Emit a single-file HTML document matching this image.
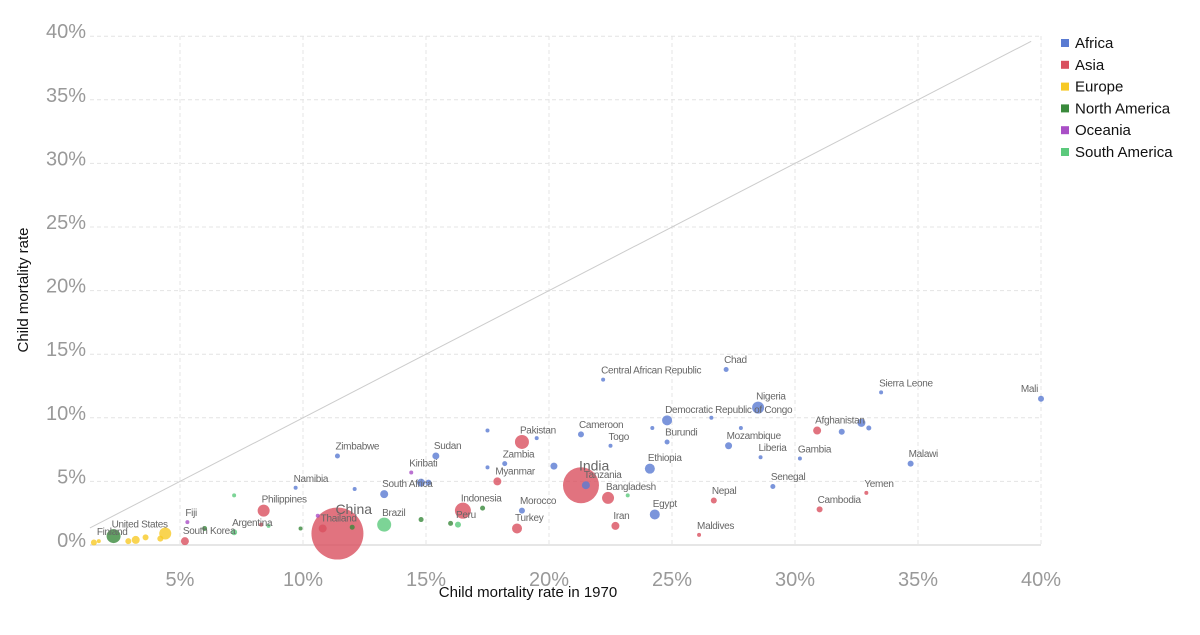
<!DOCTYPE html>
<html><head><meta charset="utf-8"><style>
body{margin:0;background:#fff;width:1200px;height:630px;overflow:hidden;font-family:"Liberation Sans",sans-serif}
</style></head><body>
<svg id="chart" width="1200" height="630" xmlns="http://www.w3.org/2000/svg">
<g id="grid"></g>
<g id="axes"></g>
<g id="marks"></g>
<g id="labels"></g>
<g id="legend"></g>
<text x="528" y="597" text-anchor="middle" font-size="15" fill="#111">Child mortality rate in 1970</text>
<text transform="translate(28,290) rotate(-90)" text-anchor="middle" font-size="15" fill="#111">Child mortality rate</text>
</svg>
<script>
const xTicks=[5,10,15,20,25,30,35,40];
const yTicks=[0,5,10,15,20,25,30,35,40];
const regions=["Africa","Asia","Europe","North America","Oceania","South America"];
const regionColors=["#5a7bd2","#d9505f","#f7c925","#3a8a3c","#a94fc6","#5bc97c"];
const names=["Mali","Sierra Leone","Chad","Central African Republic","Nigeria","Democratic Republic of Congo","Afghanistan","Gambia","Malawi","Liberia","Mozambique","Burundi","Togo","Cameroon","Ethiopia","Senegal","Yemen","Cambodia","Nepal","Maldives","Egypt","Iran","Bangladesh","Tanzania","India","Pakistan","Zambia","Myanmar","Morocco","Turkey","Indonesia","Peru","Sudan","South Africa","Kiribati","Brazil","China","Thailand","Zimbabwe","Namibia","Philippines","Argentina","South Korea","Fiji","United States","Finland",
"","","","","","","","","","","","","","","","","","","","","","","","","","","","","",""];
const x1970=[40,33.5,27.2,22.2,28.5,24.8,30.9,30.2,34.7,28.6,27.3,24.8,22.5,21.3,24.1,29.1,32.9,31.0,26.7,26.1,24.3,22.7,22.4,21.5,21.3,18.9,18.2,17.9,18.9,18.7,16.5,16.3,15.4,13.3,14.4,13.3,11.4,10.8,11.4,9.7,8.4,7.2,5.2,5.3,2.3,1.7,
32.7,31.9,33.0,27.8,26.6,24.2,20.2,19.5,17.5,17.5,14.8,15.1,12.1,23.2,17.3,12.0,9.9,8.6,4.4,3.2,2.9,3.6,1.5,6.0,7.2,16.0,14.8,10.6,8.3,4.2];
const yNow=[11.5,12.0,13.8,13.0,10.8,9.8,9.0,6.8,6.4,6.9,7.8,8.1,7.8,8.7,6.0,4.6,4.1,2.8,3.5,0.8,2.4,1.5,3.7,4.7,4.7,8.1,6.4,5.0,2.7,1.3,2.7,1.6,7.0,4.0,5.7,1.6,0.9,1.3,7.0,4.5,2.7,1.0,0.3,1.8,0.7,0.3,
9.6,8.9,9.2,9.2,10.0,9.2,6.2,8.4,9.0,6.1,4.9,4.9,4.4,3.9,2.9,1.4,1.3,1.5,0.9,0.4,0.3,0.6,0.2,1.3,3.9,1.7,2.0,2.3,1.6,0.5];
const regionIdx=[0,0,0,0,0,0,1,0,0,0,0,0,0,0,0,0,1,1,1,1,0,1,1,0,1,1,0,1,0,1,1,5,0,0,4,5,1,1,0,0,1,5,1,4,3,2,
0,0,0,0,0,0,0,0,0,0,0,0,0,5,3,3,3,5,2,2,2,2,2,3,5,3,3,4,1,2];
const popSize=[3,2,2.5,2,6,5,4,2,3,2,3.5,2.5,2,3,5,2.5,2,3,3,2,5,4,6,4,18,7,2.5,4,3,5,8,3,3.5,4,2,7,26,4,2.5,2,6,3,4,2,7,2,
4,3,2.5,2,2,2,3.5,2,2,2,4,3,2,2,2.5,2.5,2,2,6,4,3,3,3,2.5,2,2.5,2.5,2,2,3];
const X=v=>57+(v)*24.6, Y=v=>545-v*12.72;
const NS="http://www.w3.org/2000/svg";
function mk(t,a,p){const e=document.createElementNS(NS,t);for(const k in a)e.setAttribute(k,a[k]);p.appendChild(e);return e;}
const grid=document.getElementById('grid'),axes=document.getElementById('axes'),marks=document.getElementById('marks'),labels=document.getElementById('labels'),legend=document.getElementById('legend');
xTicks.forEach(t=>{const l=mk('line',{x1:X(t),x2:X(t),y1:36,y2:545,stroke:'#e4e4e4','stroke-dasharray':'4,3'},grid);


const tx=mk('text',{x:X(t),y:586,'text-anchor':'middle','font-size':20,fill:'#999'},axes);tx.textContent=t+'%';

});
yTicks.forEach(t=>{const l=mk('line',{x1:90,x2:1041,y1:Y(t),y2:Y(t),stroke:'#e4e4e4','stroke-dasharray':'4,3'},grid);


const tx=mk('text',{x:86,y:Y(t)+2,'text-anchor':'end','font-size':20,fill:'#999'},axes);tx.textContent=t+'%';

});
const ax=mk('line',{x1:90,x2:1041,y1:545,y2:545,stroke:'#ccc','stroke-width':1},axes);


const dg=mk('line',{x1:X(1.34),y1:Y(1.34),x2:X(39.6),y2:Y(39.6),stroke:'#ccc'},axes);


const order=names.map((n,i)=>i).sort((a,b)=>popSize[b]-popSize[a]);
order.forEach(i=>{const c=mk('circle',{cx:X(x1970[i]),cy:Y(yNow[i]),r:popSize[i],fill:regionColors[regionIdx[i]],'fill-opacity':0.8},marks);

});
names.forEach((n,i)=>{if(!n)return;const big=n==='India'||n==='China';
const anchor=n==='Mali'?'end':'start';
const t=mk('text',{x:X(x1970[i])+(anchor==='end'?-3:-2),y:Y(yNow[i])-popSize[i]*(big?0.6:0.5)-(big?4:5),'text-anchor':anchor,'font-size':big?14:10,fill:'#666','letter-spacing':big?0:-0.3},labels);t.textContent=n;

});
regions.forEach((r,i)=>{const y=43+i*21.8;
const s=mk('rect',{x:1061,y:y-4,width:8,height:8,fill:regionColors[i]},legend);


const t=mk('text',{x:1075,y:y+5,'font-size':15,fill:'#111'},legend);t.textContent=r;

});
</script>
</body></html>
